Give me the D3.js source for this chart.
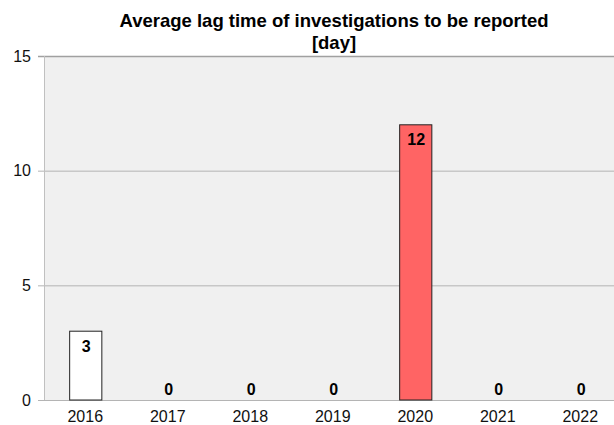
<!DOCTYPE html>
<html><head><meta charset="utf-8">
<script src="https://cdn.jsdelivr.net/npm/d3@7"></script>
<style>body{margin:0;background:#fff;}svg{display:block;font-family:"Liberation Sans",Arial,sans-serif;}</style>
</head><body>
<script>
const categories = ["2016","2017","2018","2019","2020","2021","2022"];
const values = [3,0,0,0,12,0,0];
const barColors = ["#ffffff","#ffffff","#ffffff","#ffffff","#ff6464","#ffffff","#ffffff"];
const yTicks = [0,5,10,15];
const titleLines = ["Average lag time of investigations to be reported","[day]"];

(function(){
const W=614,H=425;
const svg=d3.select("body").append("svg").attr("width",W).attr("height",H);
const mLeft=44, mRight=621.5, mTop=56, mBottom=400;
const x=d3.scaleBand().domain(categories).range([mLeft,mRight]).paddingInner(0.61).paddingOuter(0.305);
const y=d3.scaleLinear().domain([0,15]).range([mBottom,mTop]);

svg.append("rect").attr("x",mLeft).attr("y",mTop).attr("width",W-mLeft).attr("height",mBottom-mTop).attr("fill","#f0f0f0");

svg.append("g").selectAll("line").data(yTicks).join("line")
  .attr("x1",mLeft-6).attr("x2",W).attr("y1",d=>y(d)+0.5).attr("y2",d=>y(d)+0.5)
  .attr("stroke",d=>d===15?"#a0a0a0":"#b4b4b4").attr("stroke-width",d=>d===15?1.5:1);
svg.append("line").attr("x1",mLeft+0.5).attr("x2",mLeft+0.5).attr("y1",mTop).attr("y2",mBottom)
  .attr("stroke","#c0c0c0");

svg.append("g").selectAll("text").data(yTicks).join("text")
  .attr("x",31).attr("y",d=>y(d)).attr("dy","0.35em").attr("text-anchor","end")
  .attr("font-size",16).attr("fill","#111").text(d=>d);

svg.append("g").selectAll("rect").data(values).join("rect")
  .attr("x",(d,i)=>x(categories[i])+0.5).attr("width",x.bandwidth())
  .attr("y",d=>y(d)).attr("height",d=>y(0)-y(d))
  .attr("fill",(d,i)=>barColors[i]).attr("stroke","#222").attr("stroke-width",1)
  .attr("display",d=>d>0?null:"none");

svg.append("g").selectAll("text").data(values).join("text")
  .attr("x",(d,i)=>x(categories[i])+x.bandwidth()/2+1)
  .attr("y",d=>d>0?y(d)+15:y(0)-5)
  .attr("dy",d=>d>0?"0.35em":0)
  .attr("text-anchor","middle").attr("font-size",16).attr("font-weight","bold").attr("fill","#000")
  .text(d=>d);

svg.append("g").selectAll("text").data(categories).join("text")
  .attr("x",d=>x(d)+x.bandwidth()/2).attr("y",mBottom+22).attr("text-anchor","middle")
  .attr("font-size",16).attr("fill","#111").text(d=>d);

svg.append("g").selectAll("text").data(titleLines).join("text")
  .attr("x",334).attr("y",(d,i)=>27+i*22).attr("text-anchor","middle")
  .attr("font-size",18.5).attr("font-weight","bold").attr("fill","#000").text(d=>d);
})();
</script>
</body></html>
